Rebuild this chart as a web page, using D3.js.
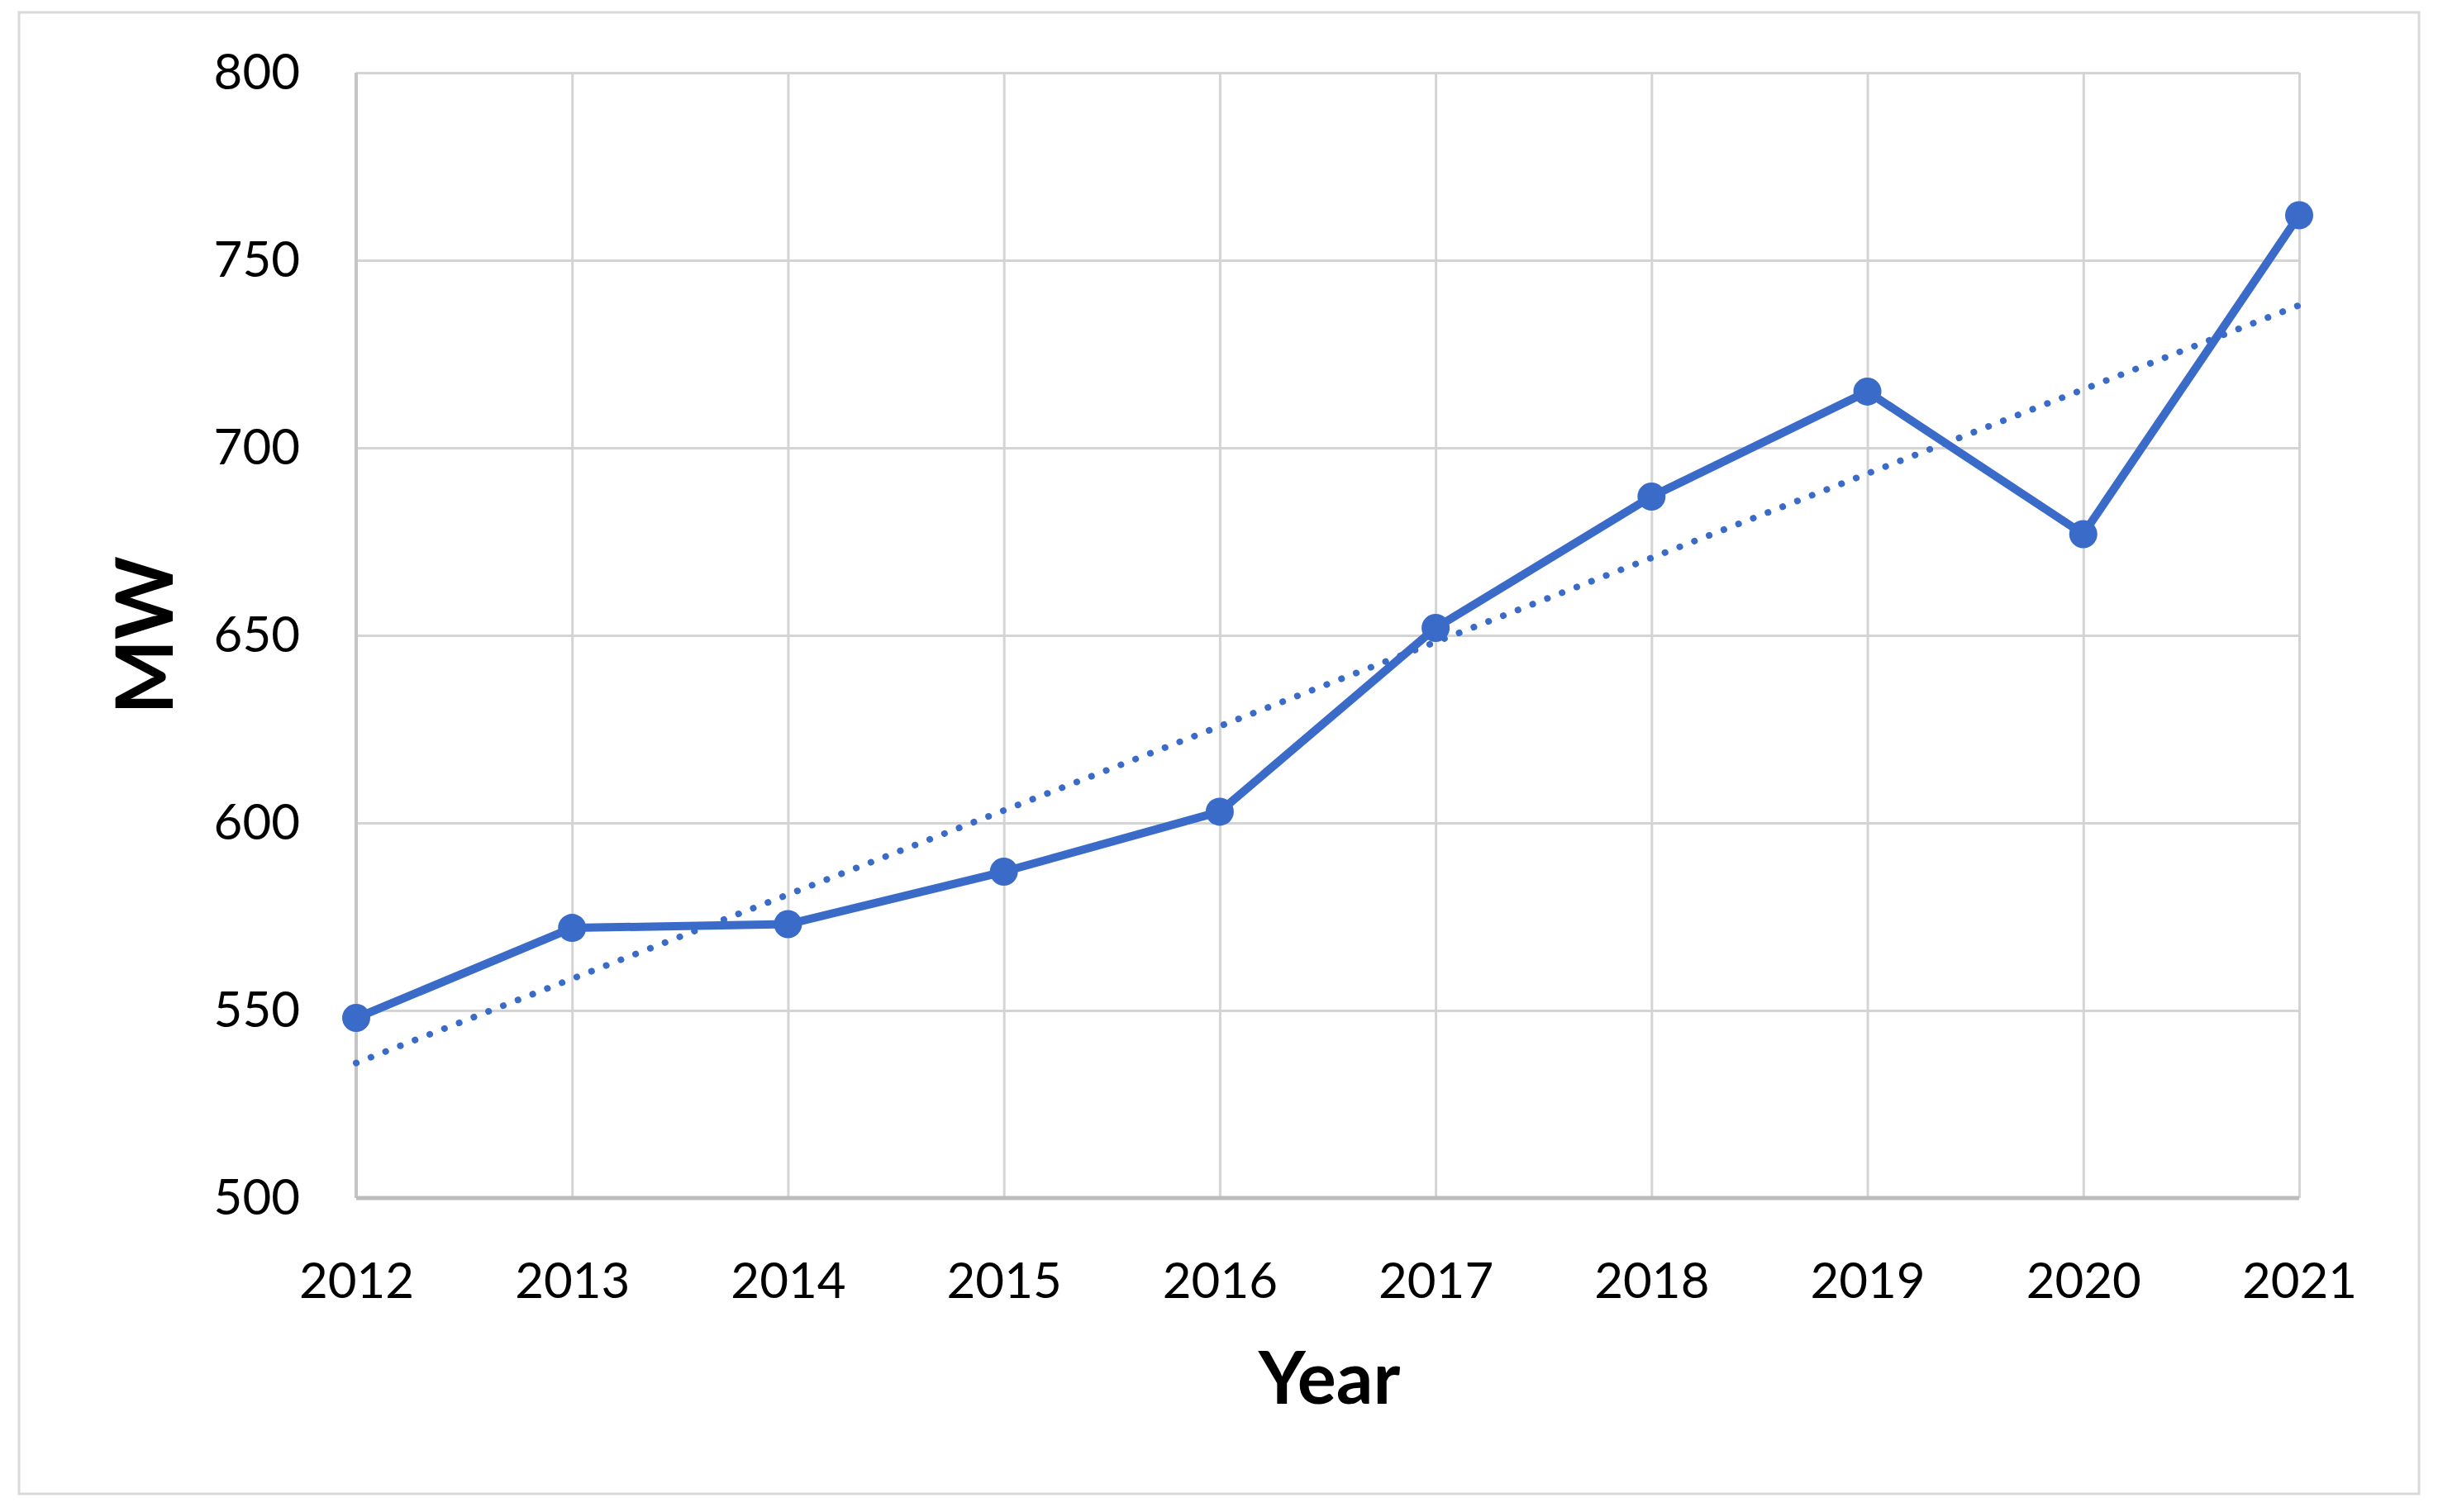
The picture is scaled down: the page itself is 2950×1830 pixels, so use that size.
<!DOCTYPE html>
<html>
<head>
<meta charset="utf-8">
<script src="https://cdn.jsdelivr.net/npm/d3@7.9.0/dist/d3.min.js"></script>
<style>
  body { margin: 0; background: #fff; }
  svg { display: block; }
  text { font-family: Lato, "Open Sans", sans-serif; fill: #000; }
</style>
</head>
<body>
<script>
// data
const years = [2012, 2013, 2014, 2015, 2016, 2017, 2018, 2019, 2020, 2021];
const mw = [548, 572, 573, 587, 603, 652, 687, 715, 677, 762];
// linear trendline end points (Excel trendline)
const trendYears = [2012, 2021];
const trendValues = [536, 738];
const yTicks = [500, 550, 600, 650, 700, 750, 800];

const W = 2950, H = 1830;
const margin = { top: 88, right: 168, bottom: 380, left: 431 };
const width = W - margin.left - margin.right;
const height = H - margin.top - margin.bottom;
const blue = "#3a6bc8";

const svg = d3.select("body").append("svg")
    .attr("width", W)
    .attr("height", H);

// outer chart border
svg.append("rect")
    .attr("x", 23).attr("y", 15)
    .attr("width", 2904).attr("height", 1793)
    .attr("fill", "#fff")
    .attr("stroke", "#d9d9d9")
    .attr("stroke-width", 3);

const g = svg.append("g")
    .attr("transform", `translate(${margin.left},${margin.top})`);

// scales
const x = d3.scaleLinear()
    .domain([2012, 2021])
    .range([0, width]);

const y = d3.scaleLinear()
    .domain([500, 800])
    .range([height, 0]);

// gridlines
g.append("g")
    .attr("class", "grid")
    .call(d3.axisLeft(y).tickValues(yTicks).tickSize(-width).tickFormat(""))
    .call(s => s.select(".domain").remove())
    .call(s => s.selectAll("line").attr("stroke", "#d4d4d4").attr("stroke-width", 3));

g.append("g")
    .attr("class", "grid")
    .attr("transform", `translate(0,${height})`)
    .call(d3.axisBottom(x).tickValues(years).tickSize(-height).tickFormat(""))
    .call(s => s.select(".domain").remove())
    .call(s => s.selectAll("line").attr("stroke", "#d4d4d4").attr("stroke-width", 3));

// left and bottom axis lines
g.append("line")
    .attr("x1", x(2012)).attr("x2", x(2012))
    .attr("y1", 0).attr("y2", height)
    .attr("stroke", "#c4c4c4").attr("stroke-width", 4);

g.append("line")
    .attr("x1", 0).attr("x2", width)
    .attr("y1", height).attr("y2", height)
    .attr("stroke", "#bcbcbc").attr("stroke-width", 5);

// tick labels
g.append("g")
    .call(d3.axisLeft(y).tickValues(yTicks).tickSize(0).tickPadding(68))
    .call(s => s.select(".domain").remove())
    .call(s => s.selectAll("text")
        .attr("font-size", 60)
        .attr("font-family", "Lato, sans-serif")
        .attr("fill", "#1a1a1a"));

g.append("g")
    .attr("transform", `translate(0,${height})`)
    .call(d3.axisBottom(x).tickValues(years).tickFormat(d3.format("d")).tickSize(0).tickPadding(78))
    .call(s => s.select(".domain").remove())
    .call(s => s.selectAll("text")
        .attr("font-size", 60)
        .attr("font-family", "Lato, sans-serif")
        .attr("fill", "#1a1a1a"));

// trendline
const trend = trendYears.map((t, i) => ({ year: t, value: trendValues[i] }));
g.append("path")
    .datum(trend)
    .attr("fill", "none")
    .attr("stroke", blue)
    .attr("stroke-width", 8)
    .attr("stroke-linecap", "round")
    .attr("stroke-dasharray", "0.1 19")
    .attr("d", d3.line().x(d => x(d.year)).y(d => y(d.value)));

// data line
const data = years.map((yr, i) => ({ year: yr, value: mw[i] }));
g.append("path")
    .datum(data)
    .attr("fill", "none")
    .attr("stroke", blue)
    .attr("stroke-width", 10)
    .attr("stroke-linejoin", "round")
    .attr("d", d3.line().x(d => x(d.year)).y(d => y(d.value)));

g.selectAll(".dot")
    .data(data)
    .enter().append("circle")
    .attr("class", "dot")
    .attr("cx", d => x(d.year))
    .attr("cy", d => y(d.value))
    .attr("r", 17)
    .attr("fill", blue);

// axis titles
g.append("text")
    .attr("text-anchor", "middle")
    .attr("x", width / 2 + 2)
    .attr("y", 1699 - margin.top)
    .attr("font-size", 88)
    .attr("font-weight", "bold")
    .text("Year");

g.append("text")
    .attr("text-anchor", "middle")
    .attr("transform", `translate(${209 - margin.left},${height / 2}) rotate(-90)`)
    .attr("font-size", 96)
    .attr("font-weight", "bold")
    .text("MW");
</script>
</body>
</html>
